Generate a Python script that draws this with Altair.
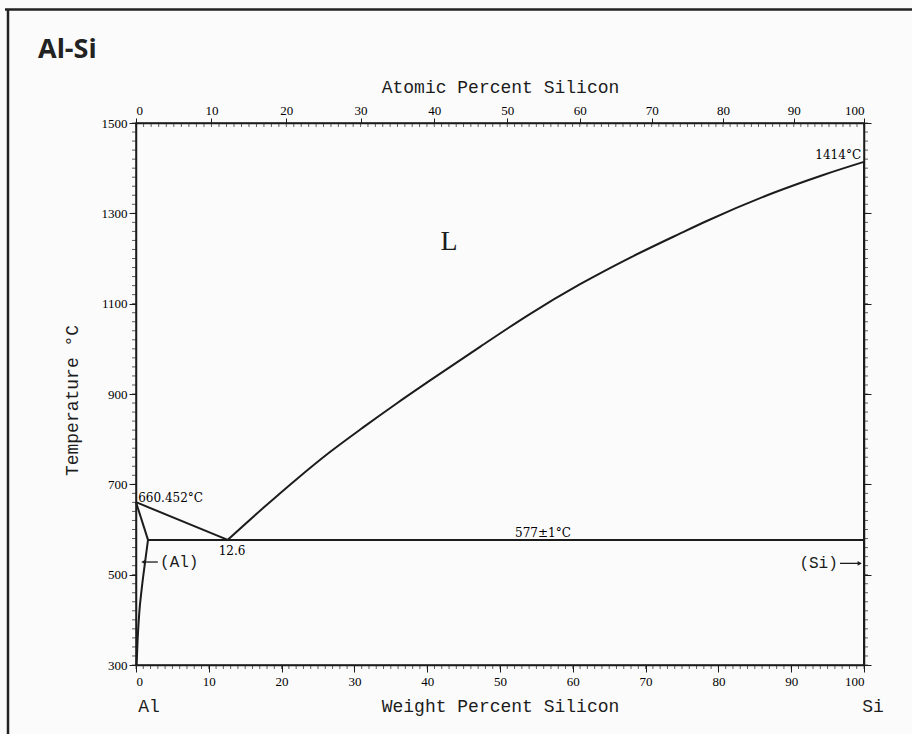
import altair as alt
import pandas as pd

W, H = 728, 542

# ---- phase boundaries (weight percent Si, temperature degC) ----
LIQ_SI_X = [12.6, 17.5, 22.1, 26.6, 31.2, 35.8, 40.4, 47.3, 54.1, 61.0, 67.9, 74.7, 78.4, 87.5, 94.4, 100]
LIQ_SI_T = [577, 648, 712, 771, 826, 879, 930, 1005, 1077, 1143, 1202, 1255, 1283, 1345, 1385, 1414]
LIQ_AL_X = [0, 12.6]
LIQ_AL_T = [660.452, 577]
SOLIDUS_X = [0, 1.65]
SOLIDUS_T = [660.452, 577]
SOLVUS_X = [1.65, 1.24, 0.78, 0.45, 0.23, 0.08]
SOLVUS_T = [577, 527, 468, 416, 358, 300]
EUT_X = [1.65, 100]
EUT_T = [577, 577]
SI_X = [100, 100]
SI_T = [300, 1414]

# ---- axes ----
WT_TICKS = list(range(0, 101, 10))
T_TICKS = [300, 500, 700, 900, 1100, 1300, 1500]
AT_TICKS = list(range(0, 101, 10))
M_SI, M_AL = 28.086, 26.982


def at_to_wt(a):
    return 100 * a * M_SI / (a * M_SI + (100 - a) * M_AL)


AT_TICKS_WT = [at_to_wt(a) for a in AT_TICKS]
AT_MINOR_WT = [at_to_wt(a) for a in range(0, 101)]
WT_MINOR = list(range(0, 101))
T_MINOR = list(range(300, 1501, 20))

SERIF = "DejaVu Serif"
TICKFONT = "Liberation Serif"
MONO = "Liberation Mono"
INK = "#1c1c1c"

segs = []
for name, xs_, ts_ in [("liq_si", LIQ_SI_X, LIQ_SI_T), ("liq_al", LIQ_AL_X, LIQ_AL_T),
                       ("solidus", SOLIDUS_X, SOLIDUS_T), ("solvus", SOLVUS_X, SOLVUS_T),
                       ("eut", EUT_X, EUT_T), ("si", SI_X, SI_T)]:
    for x, t in zip(xs_, ts_):
        segs.append({"seg": name, "x": x, "T": t})
lines_df = pd.DataFrame(segs)

xs = alt.Scale(domain=[0, 100], nice=False, zero=False)
ys = alt.Scale(domain=[300, 1500], nice=False, zero=False)

lines = alt.Chart(lines_df).mark_line(color=INK, strokeWidth=2, interpolate="monotone").encode(
    x=alt.X("x:Q", scale=xs, axis=alt.Axis(
        orient="bottom", values=WT_TICKS, title="Weight Percent Silicon", format="d",
        titleFont=MONO, titleFontSize=18, titleFontWeight="normal", titleColor=INK,
        titleY=41, titleBaseline="middle",
        labelFont=TICKFONT, labelFontSize=13, labelColor="#000", labelPadding=3,
        tickSize=7, tickColor=INK, domainColor=INK, domainWidth=1.5, grid=False)),
    y=alt.Y("T:Q", scale=ys, axis=alt.Axis(
        orient="left", values=T_TICKS, title="Temperature \u00b0C", format="d",
        titleFont=MONO, titleFontSize=18, titleFontWeight="normal", titleColor=INK,
        titleX=-64, titleY=277, titleBaseline="middle", titleAngle=270,
        labelFont=TICKFONT, labelFontSize=13, labelColor="#000", labelPadding=2,
        tickSize=7, tickColor=INK, domainColor=INK, domainWidth=1.5, grid=False)),
    detail="seg:N",
    order="x:Q",
)

# top (atomic) axis with its minor ticks
top_minor = alt.Chart(pd.DataFrame({"x": AT_MINOR_WT})).mark_tick(
    color=INK, size=4, thickness=1, yOffset=2).encode(
    x=alt.X("x:Q", scale=xs, axis=alt.Axis(
        orient="top", values=AT_TICKS_WT, title="Atomic Percent Silicon",
        labelExpr="round(100*(datum.value/28.086)/((datum.value/28.086)+((100-datum.value)/26.982)))",
        titleFont=MONO, titleFontSize=18, titleFontWeight="normal", titleColor=INK,
        titleY=-36, titleBaseline="middle",
        labelFont=TICKFONT, labelFontSize=13, labelColor="#000", labelPadding=1,
        tickSize=5, tickColor=INK, domainColor=INK, domainWidth=1.5, grid=False)),
    y=alt.value(0),
)

bottom_minor = alt.Chart(pd.DataFrame({"x": WT_MINOR})).mark_tick(
    color=INK, size=4, thickness=1, yOffset=2).encode(
    x=alt.X("x:Q", scale=xs, axis=None),
    y=alt.value(H),
)

left_minor = alt.Chart(pd.DataFrame({"T": T_MINOR})).mark_tick(
    color=INK, size=4, thickness=1, xOffset=-2).encode(
    y=alt.Y("T:Q", scale=ys, axis=None),
    x=alt.value(0),
)

right_minor = alt.Chart(pd.DataFrame({"T": T_MINOR})).mark_tick(
    color=INK, size=4, thickness=1, xOffset=2).encode(
    y=alt.Y("T:Q", scale=ys, axis=alt.Axis(
        orient="right", values=T_TICKS, labels=False, title=None,
        tickSize=7, tickColor=INK, domainColor=INK, domainWidth=1.5, grid=False)),
    x=alt.value(W),
)

# ---- annotations ----
ANN_TEXT = ["660.452\u00b0C", "12.6", "577\u00b11\u00b0C", "1414\u00b0C"]
ANN_X = [0.3, 13.2, 55.9, 99.6]
ANN_T = [669, 552, 592, 1430]
ANN_ALIGN = ["left", "center", "center", "right"]
ann_df = pd.DataFrame({"text": ANN_TEXT, "x": ANN_X, "T": ANN_T, "align": ANN_ALIGN})

ann_layers = []
for al in ["left", "center", "right"]:
    sub = ann_df[ann_df["align"] == al]
    ann_layers.append(alt.Chart(sub).mark_text(
        font=SERIF, fontSize=12, color="#000", align=al, baseline="middle").encode(
        x=alt.X("x:Q", scale=xs, axis=None), y=alt.Y("T:Q", scale=ys, axis=None), text="text:N"))

L_df = pd.DataFrame({"text": ["L"], "x": [43], "T": [1236]})
L_text = alt.Chart(L_df).mark_text(font="Liberation Serif", fontSize=28, color=INK,
                                   baseline="middle").encode(
    x=alt.X("x:Q", scale=xs, axis=None), y=alt.Y("T:Q", scale=ys, axis=None), text="text:N")

# phase labels with arrows
PH_TEXT = ["(Al)", "(Si)"]
PH_X = [3.3, 96.4]
PH_T = [528, 525]
al_lbl = alt.Chart(pd.DataFrame({"text": [PH_TEXT[0]], "x": [PH_X[0]], "T": [PH_T[0]]})).mark_text(
    font=MONO, fontSize=16, color=INK, align="left", baseline="middle").encode(
    x=alt.X("x:Q", scale=xs, axis=None), y=alt.Y("T:Q", scale=ys, axis=None), text="text:N")
si_lbl = alt.Chart(pd.DataFrame({"text": [PH_TEXT[1]], "x": [PH_X[1]], "T": [PH_T[1]]})).mark_text(
    font=MONO, fontSize=16, color=INK, align="right", baseline="middle").encode(
    x=alt.X("x:Q", scale=xs, axis=None), y=alt.Y("T:Q", scale=ys, axis=None), text="text:N")

ARROW_X1 = [1.0, 96.7]
ARROW_X2 = [3.0, 99.6]
ARROW_T = [528, 525]
arrow_df = pd.DataFrame({"x1": ARROW_X1, "x2": ARROW_X2, "T": ARROW_T})
arrow_rules = alt.Chart(arrow_df).mark_rule(color=INK, strokeWidth=1.3).encode(
    x=alt.X("x1:Q", scale=xs, axis=None), x2="x2:Q", y=alt.Y("T:Q", scale=ys, axis=None))
HEAD_X = [1.0, 99.4]
HEAD_T = [528, 525]
HEAD_SHAPE = ["triangle-left", "triangle-right"]
heads = alt.Chart(pd.DataFrame({"x": HEAD_X, "T": HEAD_T, "shape": HEAD_SHAPE})).mark_point(
    filled=True, color=INK, size=22, opacity=1).encode(
    x=alt.X("x:Q", scale=xs, axis=None), y=alt.Y("T:Q", scale=ys, axis=None),
    shape=alt.Shape("shape:N", scale=None))

# element labels under the bottom axis
EL_TEXT = ["Al", "Si"]
EL_X = [0, 100]
EL_DX = [13, 9]
el_layers = []
for t, x, dx in zip(EL_TEXT, EL_X, EL_DX):
    el_layers.append(alt.Chart(pd.DataFrame({"text": [t], "x": [x]})).mark_text(
        font=MONO, fontSize=18, color=INK, align="center", baseline="middle", dx=dx).encode(
        x=alt.X("x:Q", scale=xs, axis=None), y=alt.value(H + 42), text="text:N"))

# title and page frame
title = alt.Chart(pd.DataFrame({"text": ["Al-Si"]})).mark_text(
    font="Open Sans", fontSize=27, fontWeight="bold", color="#222", align="left",
    baseline="alphabetic").encode(x=alt.value(-98), y=alt.value(-65), text="text:N")
frame_top = alt.Chart(pd.DataFrame({"k": [0]})).mark_rule(color="#222", strokeWidth=2.5).encode(
    x=alt.value(-131), x2=alt.value(W + 60), y=alt.value(-113.5))
frame_left = alt.Chart(pd.DataFrame({"k": [0]})).mark_rule(color="#222", strokeWidth=2.5).encode(
    x=alt.value(-128), y=alt.value(-113.5), y2=alt.value(H + 80))

chart = alt.layer(
    frame_top, frame_left, title,
    lines, top_minor, bottom_minor, left_minor, right_minor,
    *ann_layers, L_text, al_lbl, si_lbl, arrow_rules, heads, *el_layers,
).resolve_scale(x="shared", y="shared").resolve_axis(x="independent", y="independent").properties(
    width=W, height=H,
    autosize=alt.AutoSizeParams(type="none"),
    padding={"left": 136, "top": 123, "right": 48, "bottom": 69},
    background="#fbfbfb",
).configure_view(stroke=INK, strokeWidth=1.5)

chart.save("out.html", embed_options={"renderer": "svg", "actions": False})
